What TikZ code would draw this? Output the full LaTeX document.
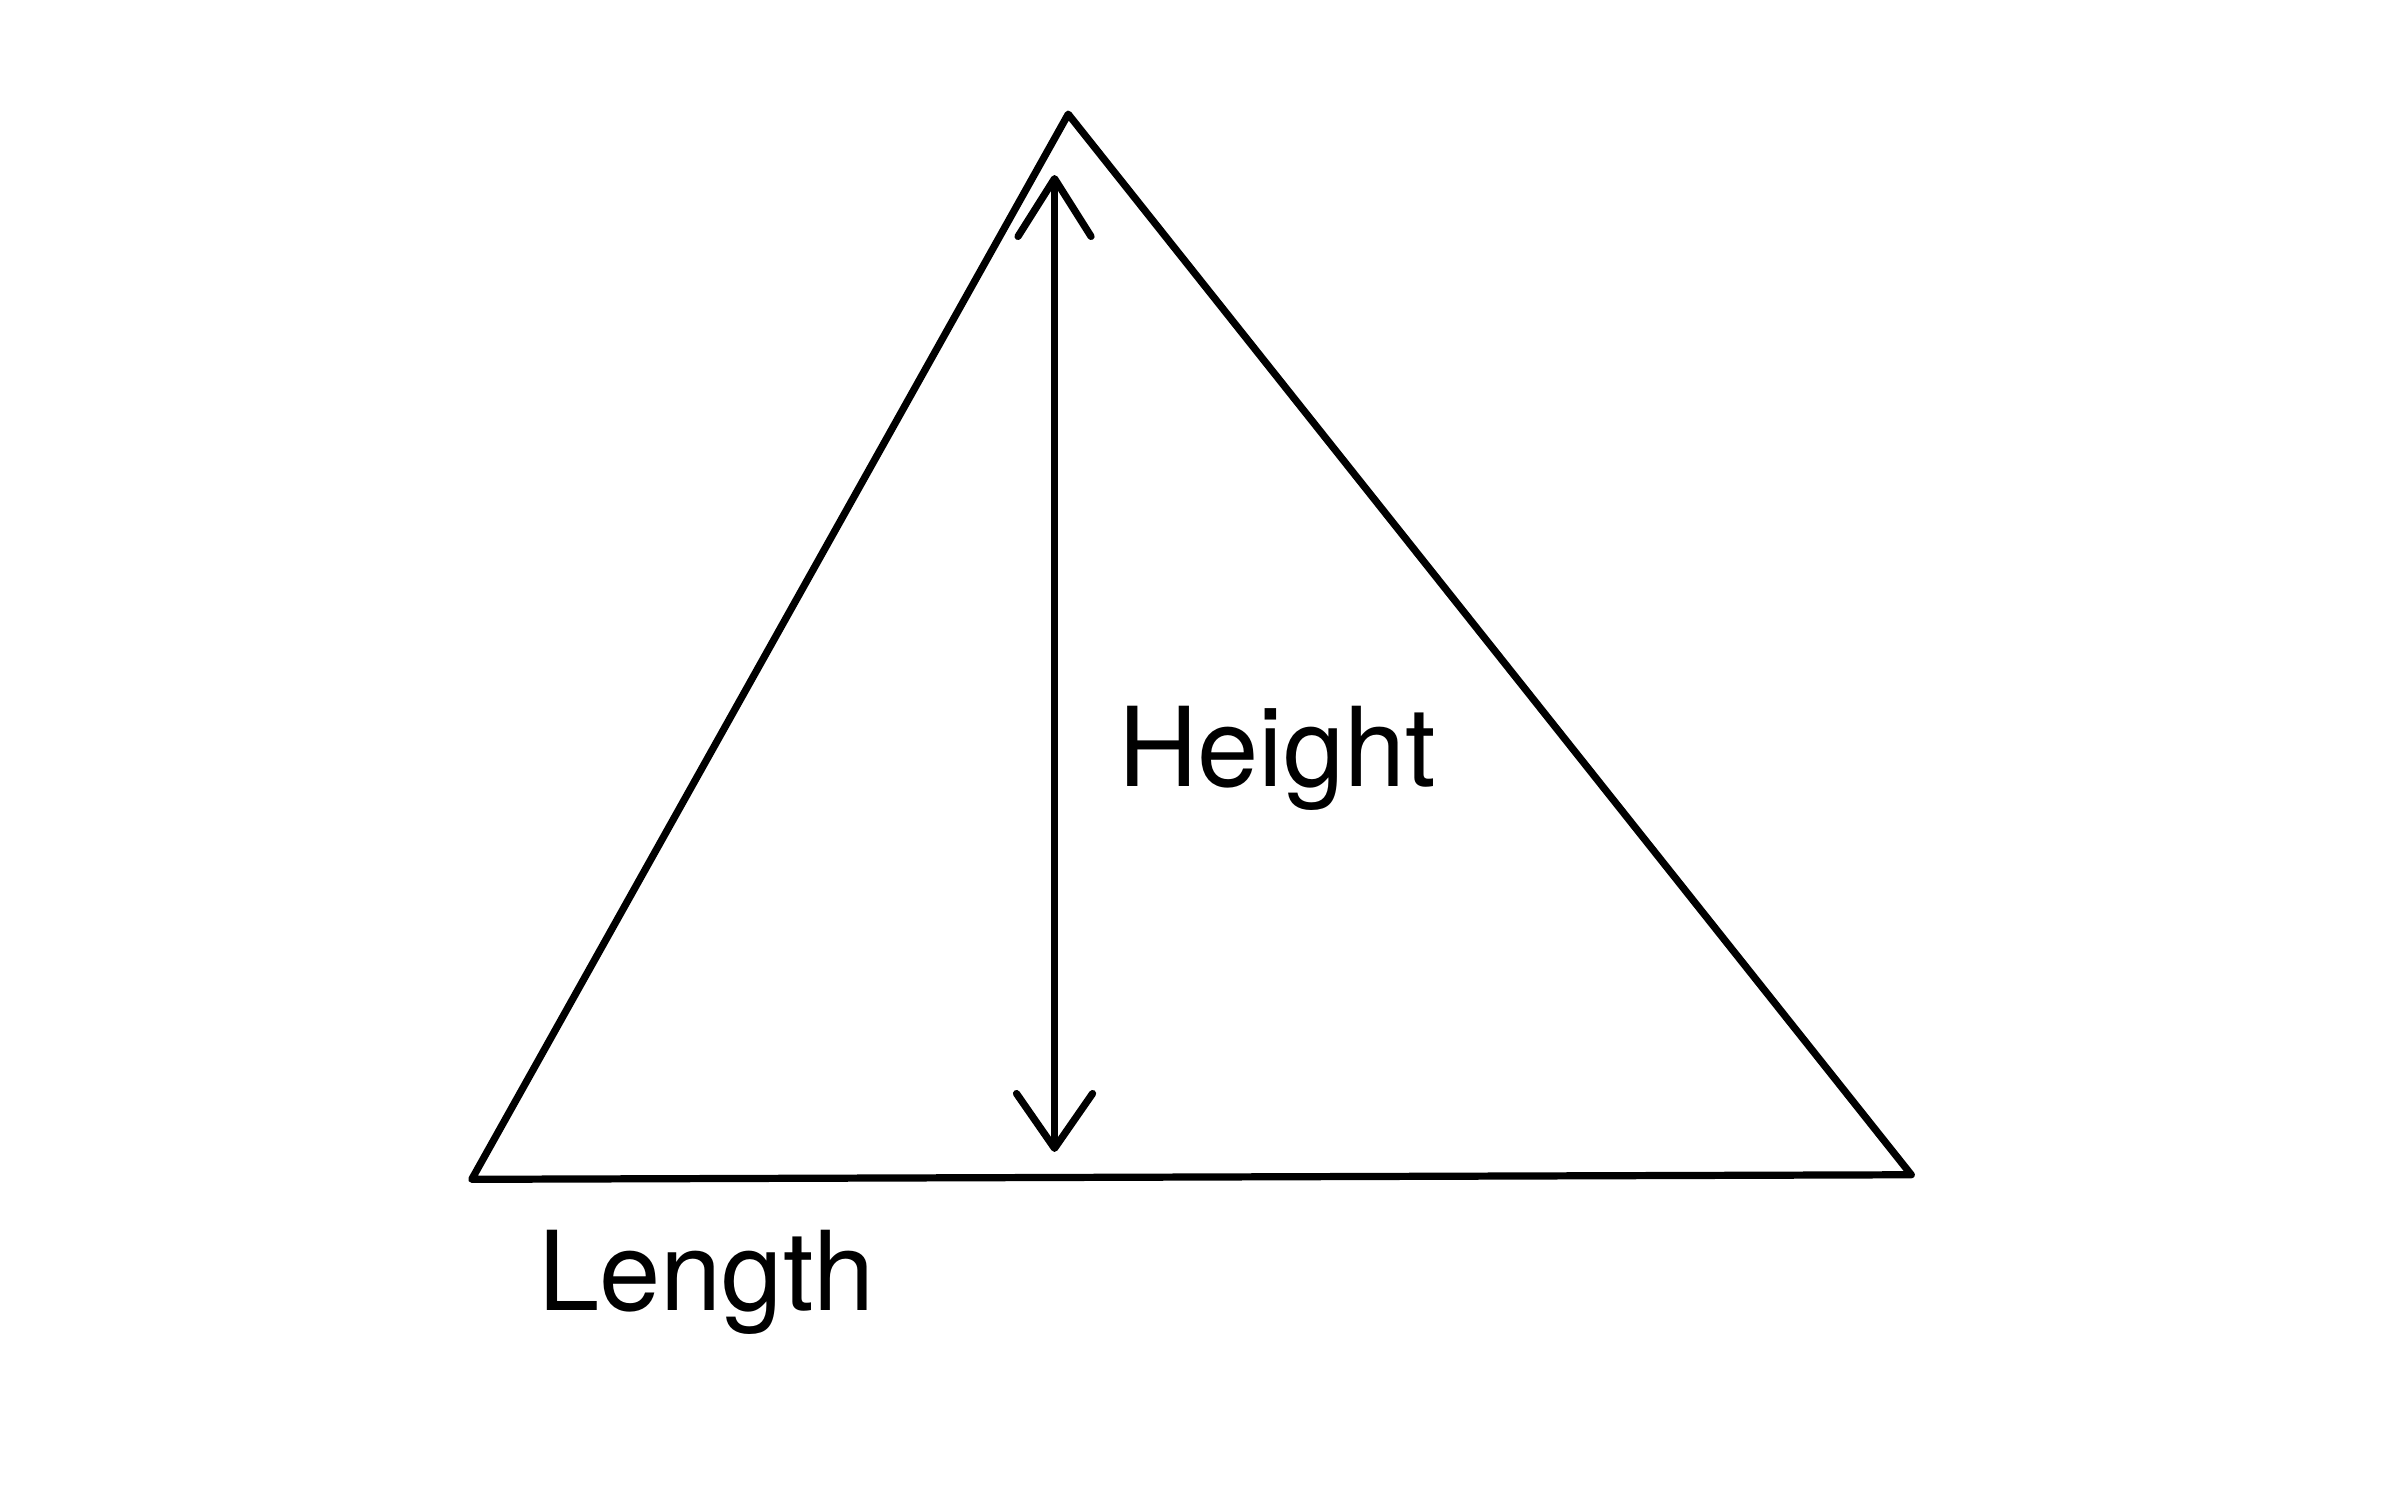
\documentclass[tikz,border=0pt]{standalone}
\usepackage{fontspec}
\setmainfont{TeX Gyre Heros}
\usetikzlibrary{arrows.meta}

\begin{document}
\begin{tikzpicture}[
    % 1 unit = 1 cm; canvas 15.68 x 9.80 cm
    edge/.style={line width=1.35pt, line cap=round, line join=round},
    dim/.style={edge, {Straight Barb[length=3.8mm, width=4.8mm, round]}-{Straight Barb[length=3.6mm, width=5mm, round]}},
    lbl/.style={anchor=base west, inner sep=0pt, font=\fontsize{20.6}{24}\selectfont}
  ]
  \useasboundingbox (0,0) rectangle (15.68,9.80);

  % ── Triangle corners ─────────────────────────────────────────────
  \coordinate (apex) at (7.02, 9.05);
  \coordinate (bl)   at (3.10, 2.05);
  \coordinate (br)   at (12.56, 2.08);

  \draw[edge] (bl) -- (apex) -- (br) -- cycle;

  % ── Height marker ────────────────────────────────────────────────
  \coordinate (htop) at (6.93, 8.65);
  \coordinate (hbot) at (6.93, 2.23);
  \draw[dim] (htop) -- (hbot);

  % ── Labels ───────────────────────────────────────────────────────
  \node[lbl] (height) at (7.34, 4.63) {Height};
  \node[lbl] (length) at (3.53, 1.19) {Length};

\end{tikzpicture}
\end{document}
